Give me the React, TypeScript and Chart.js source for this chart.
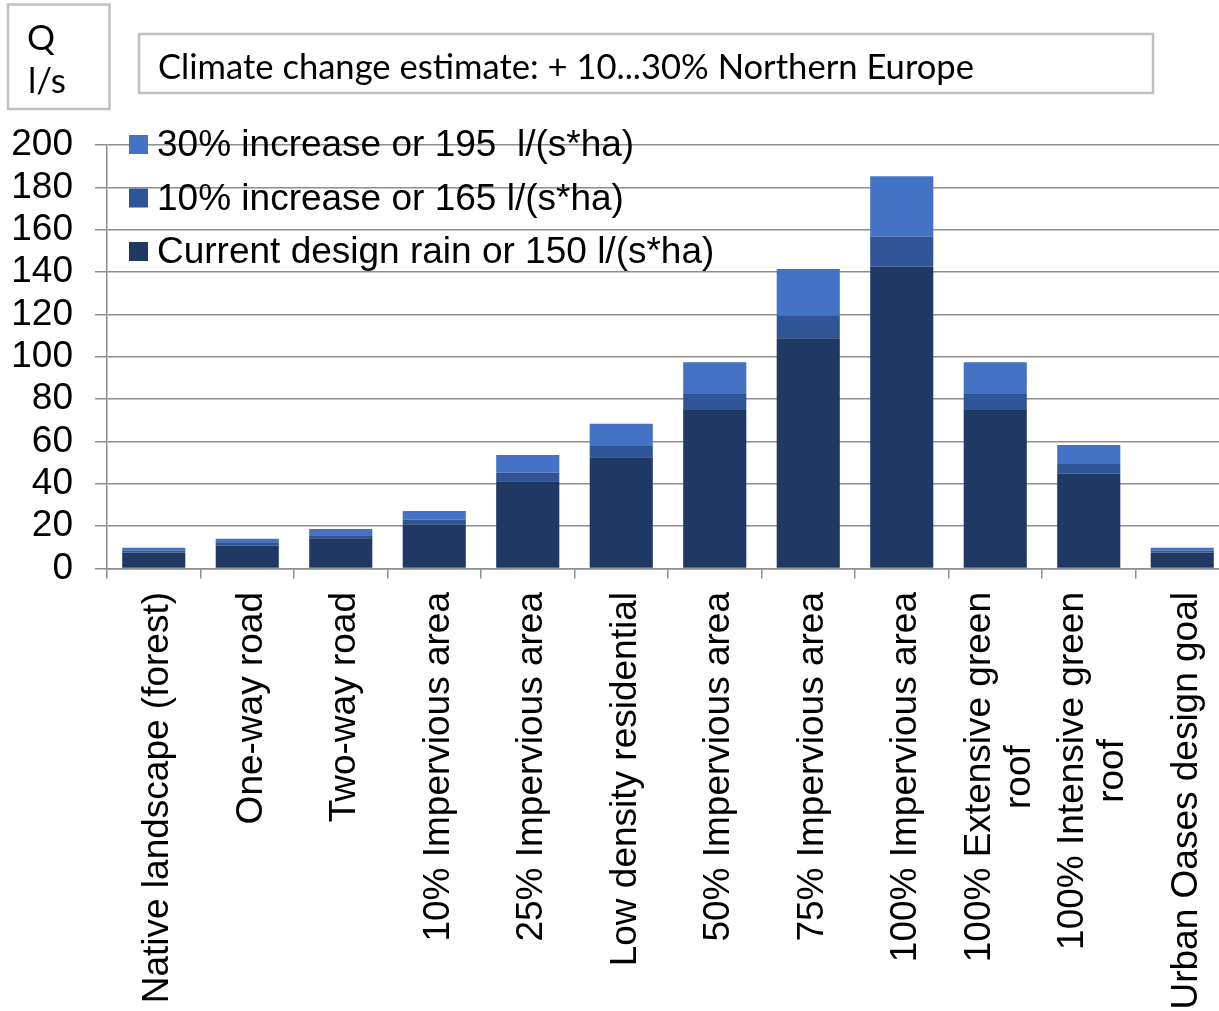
import { useEffect, useRef } from 'react';
import { Chart, registerables } from 'chart.js';

Chart.register(...registerables);

// ---- data ----
const categories = [
  'Native landscape (forest)',
  'One-way road',
  'Two-way road',
  '10% Impervious area',
  '25% Impervious area',
  'Low density residential',
  '50% Impervious area',
  '75% Impervious area',
  '100% Impervious area',
  '100% Extensive green roof',
  '100% Intensive green roof',
  'Urban Oases design goal',
];

const categoryLabelLines = [
  ['Native landscape (forest)'],
  ['One-way road'],
  ['Two-way road'],
  ['10% Impervious area'],
  ['25% Impervious area'],
  ['Low density residential'],
  ['50% Impervious area'],
  ['75% Impervious area'],
  ['100% Impervious area'],
  ['100% Extensive green', 'roof'],
  ['100% Intensive green', 'roof'],
  ['Urban Oases design goal'],
];

const currentDesign = [7.6, 10.9, 14.3, 20.9, 41.2, 52.5, 74.9, 108.7, 142.5, 74.9, 44.8, 7.6];
const increase10 = [0.75, 1.1, 1.4, 2.1, 4.1, 5.3, 7.5, 10.9, 14.3, 7.5, 4.5, 0.75];
const increase30 = [1.5, 2.1, 2.9, 4.2, 8.3, 10.5, 15.0, 21.8, 28.5, 15.0, 9.0, 1.5];

const seriesNames = [
  'Current design rain or 150 l/(s*ha)',
  '10% increase or 165 l/(s*ha)',
  '30% increase or 195  l/(s*ha)',
];
const seriesColors = ['#203864', '#2F5597', '#4472C4'];

const yMin = 0;
const yMax = 200;
const yStep = 20;

const unitLines = ['Q', 'l/s'];
const noteText = 'Climate change estimate: + 10...30% Northern Europe';

const ARIAL = '"Liberation Sans", Arial, sans-serif';
const CALIBRI = 'Lato, "Open Sans", sans-serif';
const GRID = '#8e8e8e';

const overlayPlugin = {
  id: 'overlay',
  afterDraw(chart: any) {
    const ctx = chart.ctx as CanvasRenderingContext2D;
    const xs = chart.scales.x;

    // category labels (vertical)
    ctx.save();
    ctx.fillStyle = '#000';
    ctx.font = `37px ${ARIAL}`;
    ctx.textAlign = 'center';
    ctx.textBaseline = 'alphabetic';
    const lineH = 40;
    categoryLabelLines.forEach((lines, i) => {
      const x = xs.getPixelForValue(i);
      const w = Math.max(...lines.map((l) => ctx.measureText(l).width));
      ctx.save();
      ctx.translate(x, 592);
      ctx.rotate(-Math.PI / 2);
      const n = lines.length;
      lines.forEach((l, j) => {
        const off = 14.5 + (j - (n - 1) / 2) * lineH;
        ctx.fillText(l, -w / 2, off);
      });
      ctx.restore();
    });
    ctx.restore();

    // legend (reverse order: top series first)
    ctx.save();
    ctx.font = `37px ${ARIAL}`;
    ctx.textAlign = 'left';
    ctx.textBaseline = 'alphabetic';
    const baselines = [156, 209.5, 263];
    [2, 1, 0].forEach((si, k) => {
      const b = baselines[k];
      ctx.fillStyle = seriesColors[si];
      ctx.fillRect(129, b - 21, 19, 19);
      ctx.fillStyle = '#000';
      ctx.fillText(seriesNames[si], 157, b);
    });
    ctx.restore();

    // unit box and note box
    ctx.save();
    ctx.strokeStyle = '#c0c0c0';
    ctx.lineWidth = 2.5;
    ctx.strokeRect(8, 4.5, 101.5, 104.5);
    ctx.strokeRect(139, 34, 1014, 59);
    ctx.fillStyle = '#000';
    ctx.textAlign = 'left';
    ctx.textBaseline = 'alphabetic';
    ctx.font = `35px ${CALIBRI}`;
    ctx.fillText(unitLines[0], 27, 50);
    ctx.fillText(unitLines[1], 28, 92.5);
    ctx.font = `34.6px ${CALIBRI}`;
    ctx.fillText(noteText, 158, 79);
    ctx.restore();
  },
};

export default function App() {
  const ref = useRef<HTMLCanvasElement | null>(null);

  useEffect(() => {
    const canvas = ref.current;
    if (!canvas) return;
    const chart = new Chart(canvas, {
      type: 'bar',
      data: {
        labels: categories,
        datasets: [currentDesign, increase10, increase30].map((d, i) => ({
          label: seriesNames[i],
          data: d,
          backgroundColor: seriesColors[i],
          borderWidth: 0,
          barPercentage: 0.675,
          categoryPercentage: 1,
        })),
      },
      options: {
        responsive: false,
        animation: false,
        devicePixelRatio: 1,
        layout: { padding: { top: 145, right: 11, bottom: 0, left: 0 } },
        plugins: {
          legend: { display: false },
          tooltip: { enabled: false },
          title: { display: false },
        },
        scales: {
          x: {
            stacked: true,
            offset: true,
            ticks: { display: false },
            grid: {
              display: true,
              offset: true,
              drawOnChartArea: false,
              drawTicks: true,
              tickLength: 10,
              color: GRID,
              lineWidth: 1.5,
            },
            border: { display: true, color: GRID, width: 1.5 },
            afterFit: (s: any) => {
              s.height = 1011 - 568.5;
            },
          },
          y: {
            stacked: true,
            min: yMin,
            max: yMax,
            ticks: {
              stepSize: yStep,
              autoSkip: false,
              color: '#000',
              padding: 22,
              font: { family: ARIAL, size: 37 },
            },
            grid: {
              color: GRID,
              lineWidth: 1.5,
              drawTicks: true,
              tickLength: 12,
            },
            border: { display: true, color: GRID, width: 1.5 },
            afterFit: (s: any) => {
              s.width = 107;
            },
          },
        },
      },
      plugins: [overlayPlugin],
    });
    return () => chart.destroy();
  }, []);

  return (
    <div
      style={{
        position: 'fixed',
        left: 0,
        top: 0,
        width: 1219,
        height: 1011,
        overflow: 'hidden',
        background: '#fff',
      }}
    >
      <canvas
        ref={ref}
        width={1240}
        height={1011}
        style={{ position: 'absolute', left: 0, top: 0, width: 1240, height: 1011 }}
      />
    </div>
  );
}
